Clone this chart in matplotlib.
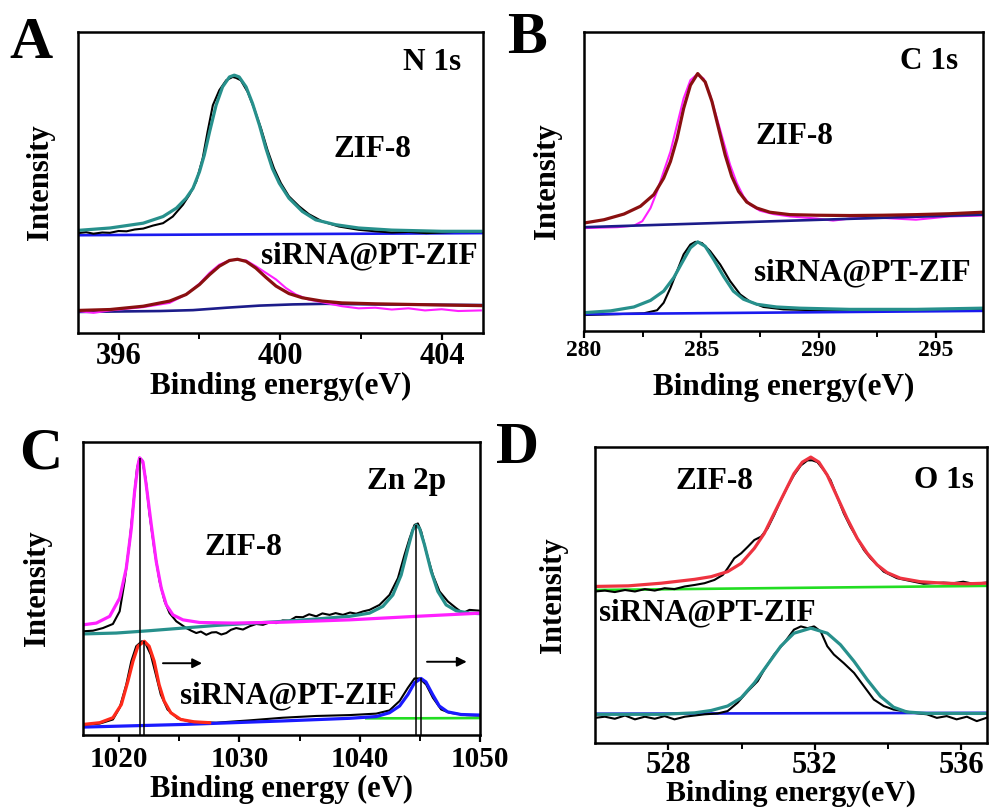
import matplotlib
matplotlib.use("Agg")
import matplotlib.pyplot as plt

plt.rcParams["font.family"] = ["Liberation Serif", "DejaVu Serif"]
plt.rcParams["font.weight"] = "bold"

# ---------------- Panel A : N 1s ----------------
a_fit_e = [395.0, 395.79, 396.61, 397.10, 397.43, 397.67, 397.84, 398.00, 398.12, 398.25,
           398.41, 398.57, 398.74, 398.86, 398.98, 399.15, 399.31, 399.48, 399.64, 399.80,
           399.97, 400.21, 400.54, 400.87, 401.36, 401.93, 402.75, 403.98, 404.95]
a_fit_i = [34.1, 34.9, 36.5, 38.7, 41.5, 44.8, 48.1, 53.6, 59.2, 66.9,
           75.7, 81.8, 85.1, 85.7, 85.1, 81.8, 76.3, 69.1, 61.4, 54.7,
           49.8, 44.8, 40.4, 37.6, 36.0, 34.9, 34.2, 33.8, 33.8]
a_raw_e = [395.0, 395.2, 395.38, 395.6, 395.79, 396.0, 396.20, 396.4, 396.61, 396.85, 397.10,
           397.34, 397.59, 397.75, 397.92, 398.08, 398.20, 398.33, 398.49, 398.66, 398.82,
           398.90, 399.02, 399.19, 399.35, 399.52, 399.68, 399.84, 400.01, 400.21, 400.46,
           400.70, 401.03, 401.44, 401.93, 402.34, 402.75, 403.16, 403.6, 403.98, 404.5, 404.95]
a_raw_i = [33.2, 33.5, 33.0, 33.4, 33.3, 33.9, 33.8, 34.4, 34.7, 35.7, 36.5,
           38.7, 42.6, 45.9, 50.3, 58.1, 66.9, 75.7, 80.7, 84.0, 85.1,
           84.8, 84.0, 80.1, 74.6, 68.0, 60.8, 54.7, 49.8, 45.4, 42.1,
           39.5, 37.1, 35.4, 34.3, 33.8, 33.4, 33.6, 33.2, 33.4, 33.7, 33.6]
a_base_e = [395.0, 405.0]
a_base_i = [32.5, 33.2]

a_fit2_e = [395.0, 395.79, 396.61, 397.26, 397.67, 398.00, 398.25, 398.49, 398.74, 398.94,
            399.15, 399.39, 399.64, 399.89, 400.21, 400.54, 401.03, 401.52, 402.34, 403.16,
            403.98, 404.95]
a_fit2_i = [7.5, 7.8, 8.9, 10.6, 12.8, 16.1, 19.4, 22.2, 24.1, 24.5,
            23.8, 21.6, 18.5, 15.6, 13.1, 11.7, 10.6, 10.0, 9.7, 9.5,
            9.3, 9.1]
a_raw2_e = [395.0, 395.38, 395.79, 396.61, 397.26, 397.67, 398.00, 398.25, 398.49, 398.74,
            398.90, 399.15, 399.39, 399.64, 399.89, 400.13, 400.38, 400.70, 401.11, 401.52,
            401.93, 402.34, 402.75, 403.16, 403.57, 403.98, 404.39, 404.95]
a_raw2_i = [7.3, 6.7, 7.5, 8.6, 10.0, 12.8, 16.4, 20.0, 22.7, 24.1,
            24.4, 24.1, 22.2, 20.0, 17.8, 15.0, 12.8, 11.1, 10.0, 8.9,
            8.2, 8.4, 7.8, 8.2, 7.5, 7.9, 7.3, 7.5]
a_base2_e = [395.0, 397.02, 397.84, 398.66, 399.48, 400.30, 401.11, 402.34, 404.95]
a_base2_i = [7.0, 7.3, 7.6, 8.4, 9.1, 9.5, 9.7, 9.5, 9.3]

# ---------------- Panel B : C 1s ----------------
b_fit_e = [280.0, 280.85, 281.70, 282.40, 282.97, 283.39, 283.68, 283.96, 284.24, 284.53,
           284.84, 285.16, 285.45, 285.73, 286.01, 286.29, 286.58, 286.93, 287.36, 287.92,
           288.77, 289.90, 291.32, 292.73, 294.14, 295.56, 296.97]
b_fit_i = [36.1, 37.2, 39.1, 41.7, 45.6, 51.1, 56.7, 64.4, 74.4, 82.2,
           86.1, 83.3, 76.7, 67.8, 58.9, 51.7, 46.7, 43.1, 41.1, 39.7,
           38.9, 38.7, 38.6, 38.7, 38.9, 39.2, 39.7]
b_raw_e = [280.0, 281.41, 282.12, 282.48, 282.83, 283.11, 283.39, 283.68, 283.96, 284.24,
           284.53, 284.81, 285.09, 285.37, 285.66, 285.94, 286.22, 286.51, 286.79, 287.07,
           287.50, 288.06, 288.77, 289.90, 290.61, 291.32, 292.73, 294.14, 295.56, 296.97]
b_raw_i = [34.4, 34.7, 35.2, 36.7, 41.1, 46.7, 53.3, 60.0, 68.9, 77.8,
           83.9, 85.8, 84.4, 78.9, 71.1, 63.3, 55.6, 49.4, 45.0, 42.2,
           40.2, 39.1, 38.3, 37.6, 36.9, 37.6, 37.8, 37.2, 38.3, 38.6]
b_base_e = [280.0, 297.0]
b_base_i = [34.7, 38.9]

b_fit2_e = [280.0, 281.13, 282.12, 282.83, 283.39, 283.82, 284.17, 284.53, 284.84, 285.16,
            285.52, 285.94, 286.36, 286.79, 287.36, 288.20, 289.19, 291.32, 294.14, 296.97]
b_fit2_i = [6.1, 6.7, 8.0, 10.2, 13.3, 17.8, 22.8, 27.8, 29.8, 28.3,
            23.9, 18.3, 13.3, 10.6, 8.9, 8.0, 7.6, 7.2, 7.2, 7.6]
b_raw2_e = [280.0, 281.41, 282.55, 283.11, 283.39, 283.68, 283.96, 284.24, 284.53, 284.74,
            285.02, 285.37, 285.80, 286.22, 286.65, 287.07, 287.64, 288.49, 289.90, 291.32,
            292.73, 294.14, 295.56, 296.97]
b_raw2_i = [5.3, 5.6, 5.9, 6.9, 9.4, 14.4, 20.0, 25.6, 28.9, 29.8,
            29.4, 26.7, 22.2, 16.7, 12.2, 9.8, 8.0, 7.2, 6.9, 6.9,
            6.7, 6.9, 7.1, 7.2]
b_base2_e = [280.0, 297.0]
b_base2_i = [5.6, 6.7]

# ---------------- Panel C : Zn 2p ----------------
c_fit_e = [1017.0, 1018.11, 1019.22, 1020.05, 1020.60, 1021.02, 1021.29, 1021.57, 1021.71, 1021.99,
           1022.26, 1022.68, 1023.09, 1023.51, 1023.93, 1024.48, 1025.31, 1026.70, 1029.47, 1033.62,
           1039.16, 1044.70, 1050.08]
c_fit_i = [37.6, 38.2, 40.5, 46.7, 56.9, 70.5, 83.0, 92.1, 94.6, 93.2,
           85.3, 71.7, 59.2, 50.1, 44.4, 41.0, 39.3, 38.4, 38.2, 38.5,
           39.3, 40.5, 41.6]
c_fit2_e = [1017.0, 1019.77, 1022.54, 1025.31, 1028.08, 1030.85, 1033.62, 1036.39, 1039.16, 1040.82,
            1041.93, 1042.76, 1043.45, 1044.01, 1044.42, 1044.70, 1044.98, 1045.39, 1045.95, 1046.50,
            1047.19, 1048.02, 1049.13, 1050.08]
c_fit2_i = [34.5, 34.8, 35.6, 36.5, 37.4, 38.1, 38.8, 39.6, 40.5, 41.6,
            43.9, 47.8, 54.6, 63.7, 70.0, 71.7, 70.5, 64.9, 55.8, 49.0,
            44.4, 42.4, 41.6, 41.4]
c_raw_e = [1017.0, 1017.83, 1018.66, 1019.49, 1020.05, 1020.46, 1020.88, 1021.21, 1021.49, 1021.71,
           1021.93, 1022.21, 1022.54, 1022.96, 1023.37, 1023.79, 1024.20, 1024.76, 1025.59, 1026.0,
           1026.42, 1026.8, 1027.25, 1027.7, 1028.08, 1028.5, 1028.91, 1029.3, 1029.74, 1030.3,
           1030.85, 1031.4, 1031.96, 1032.5, 1033.07, 1033.6, 1034.17, 1034.7, 1035.28, 1035.8,
           1036.39, 1036.9, 1037.50, 1038.0, 1038.61, 1039.2, 1039.71, 1040.3, 1040.82, 1041.65,
           1042.48, 1043.18, 1043.73, 1044.15, 1044.56, 1044.84, 1045.12, 1045.53, 1046.09, 1046.64,
           1047.33, 1048.02, 1048.58, 1049.13, 1050.08]
c_raw_i = [35.4, 35.6, 36.5, 37.9, 42.2, 52.4, 66.0, 79.6, 90.9, 94.6,
           93.8, 87.5, 75.1, 62.6, 52.4, 45.6, 41.6, 38.8, 36.5, 35.6,
           34.8, 35.3, 34.2, 35.0, 35.1, 34.3, 34.8, 35.9, 36.5, 36.0,
           37.1, 37.9, 37.6, 38.4, 38.2, 39.1, 39.0, 40.3, 40.2, 41.2,
           40.5, 41.5, 41.0, 41.6, 41.0, 41.8, 41.4, 42.2, 42.7, 44.4,
           47.8, 53.5, 61.5, 67.1, 71.7, 72.2, 69.4, 62.6, 54.6, 49.0,
           45.6, 43.3, 41.6, 42.7, 42.4]

c_fit3_e = [1017.0, 1018.39, 1019.49, 1020.19, 1020.74, 1021.16, 1021.57, 1022.1, 1022.50, 1022.92,
            1023.33, 1023.75, 1024.30, 1025.13, 1026.24, 1027.53]
c_fit3_i = [3.6, 4.2, 5.9, 10.4, 18.4, 25.2, 30.3, 32.0, 30.3, 25.2,
            17.2, 11.6, 7.6, 5.3, 4.5, 4.2]
c_fit4_e = [1017.0, 1025.31, 1033.62, 1039.16, 1041.38, 1042.48, 1043.32, 1044.01, 1044.56, 1045.1,
            1045.51, 1046.07, 1046.62, 1047.31, 1048.42, 1050.08]
c_fit4_i = [2.7, 3.6, 4.8, 5.7, 6.3, 7.6, 9.9, 13.8, 17.8, 19.3,
            18.1, 13.8, 9.9, 7.9, 7.0, 6.8]
c_base4_e = [1040.55, 1044.70, 1050.08]
c_base4_i = [5.7, 5.7, 5.8]
c_raw2_e = [1017.0, 1018.39, 1019.49, 1020.05, 1020.60, 1021.02, 1021.43, 1021.9, 1022.22, 1022.64,
            1023.06, 1023.47, 1024.03, 1024.86, 1025.96, 1028.08, 1030.85, 1033.62, 1036.39, 1039.16,
            1041.38, 1042.48, 1043.32, 1044.01, 1044.56, 1045.0, 1045.53, 1046.09, 1046.78, 1047.47,
            1048.86, 1050.08]
c_raw2_i = [3.4, 3.9, 5.3, 9.3, 17.2, 25.2, 30.3, 32.0, 31.1, 27.4,
            20.6, 13.8, 8.7, 5.7, 4.5, 4.2, 5.0, 5.9, 6.5, 6.8,
            7.3, 8.4, 11.6, 16.1, 19.3, 19.3, 17.2, 12.7, 8.7, 7.6,
            6.8, 6.6]

c_mark_e = [1021.7, 1022.1, 1044.7, 1045.1]
c_mark_top = [94.6, 32.0, 71.7, 19.3]
c_arrow_start = [1023.65, 1045.6]
c_arrow_end = [1026.9, 1048.9]
c_arrow_i = [24.5, 25.0]

# ---------------- Panel D : O 1s ----------------
d_fit_e = [526.0, 526.91, 527.81, 528.72, 529.17, 529.62, 529.99, 530.35, 530.62, 530.89,
           531.16, 531.43, 531.66, 531.89, 532.11, 532.34, 532.61, 532.88, 533.16, 533.43,
           533.70, 533.97, 534.33, 534.88, 535.51, 536.14, 536.68]
d_fit_i = [52.9, 53.1, 54.0, 55.3, 56.2, 57.9, 60.7, 65.8, 70.8, 77.6,
           84.3, 91.0, 94.9, 96.6, 94.9, 90.5, 83.2, 75.9, 69.1, 64.1,
           60.2, 57.6, 55.7, 54.5, 54.0, 53.8, 54.0]
d_raw_e = [526.0, 526.27, 526.54, 526.82, 527.09, 527.36, 527.63, 527.90, 528.17, 528.45,
           528.72, 528.99, 529.26, 529.49, 529.62, 529.80, 529.99, 530.17, 530.35, 530.53,
           530.71, 530.89, 531.07, 531.25, 531.43, 531.62, 531.80, 531.93, 532.07, 532.25,
           532.43, 532.61, 532.79, 532.97, 533.16, 533.34, 533.52, 533.70, 533.88, 534.06,
           534.24, 534.47, 534.70, 534.97, 535.24, 535.51, 535.78, 536.05, 536.33, 536.68]
d_raw_i = [51.2, 51.5, 51.0, 51.7, 51.2, 52.0, 51.5, 52.3, 52.0, 52.9,
           53.4, 54.0, 55.1, 56.8, 59.0, 62.4, 64.1, 66.3, 68.6, 69.7,
           72.5, 77.0, 82.0, 86.5, 90.5, 93.8, 95.5, 95.5, 94.9, 92.1,
           88.8, 83.2, 77.6, 73.1, 69.1, 65.2, 62.4, 60.2, 57.9, 56.8,
           55.7, 55.1, 54.5, 53.8, 54.0, 54.2, 54.0, 54.5, 53.8, 54.2]
d_base_e = [526.0, 536.7]
d_base_i = [51.7, 53.1]

d_fit2_e = [526.0, 527.81, 528.72, 529.17, 529.62, 529.99, 530.35, 530.71, 531.07, 531.43,
            531.89, 532.34, 532.70, 533.07, 533.43, 533.79, 534.15, 534.51, 535.06, 536.68]
d_fit2_i = [9.7, 9.7, 10.2, 11.0, 12.5, 15.3, 20.3, 26.5, 32.7, 37.1,
            38.8, 37.1, 33.2, 27.6, 21.4, 15.8, 12.1, 10.5, 10.0, 10.0]
d_raw2_e = [526.0, 526.27, 526.54, 526.82, 527.09, 527.36, 527.63, 527.90, 528.17, 528.45,
            528.72, 528.99, 529.35, 529.62, 529.89, 530.17, 530.44, 530.62, 530.89, 531.16,
            531.43, 531.62, 531.80, 531.98, 532.16, 532.34, 532.52, 532.79, 533.07, 533.34,
            533.61, 533.88, 534.15, 534.42, 534.70, 535.06, 535.33, 535.60, 535.87, 536.15,
            536.42, 536.68]
d_raw2_i = [8.5, 8.9, 8.2, 9.3, 8.0, 8.9, 8.2, 9.1, 8.0, 8.9,
            9.3, 9.7, 10.0, 10.8, 13.6, 17.5, 20.9, 24.8, 29.9, 33.8,
            38.3, 39.4, 38.8, 39.4, 37.7, 32.7, 29.9, 27.0, 23.7, 19.2,
            14.7, 12.5, 11.3, 10.8, 10.2, 9.7, 8.5, 9.1, 8.0, 8.9,
            7.4, 8.5]
d_base2_e = [526.0, 536.7]
d_base2_i = [9.9, 10.2]

TEAL = "#27908c"
BLUE = "#1a1aee"
NAVY = "#1c1c8a"
MAROON = "#8a1010"
MAGENTA = "#ff20ff"
GREEN = "#22dd22"

FIT_LW = 2.3
RAW_LW = 1.5
BASE_LW = 1.9
TXT = 22.5

fig = plt.figure(figsize=(9.9, 8.11), dpi=100)

axA = fig.add_axes([0.0788, 0.5894, 0.409, 0.371])
axB = fig.add_axes([0.590, 0.592, 0.403, 0.3685])
axC = fig.add_axes([0.0838, 0.0937, 0.401, 0.3613])
axD = fig.add_axes([0.601, 0.0838, 0.396, 0.365])


def style(ax, xlim, major, minor, xlabel, tick_fs, tick_pad, lab_fs, xlab_y, ylab_x):
    ax.set_xlim(*xlim)
    ax.set_ylim(0, 100)
    ax.set_yticks([])
    ax.set_xticks(major)
    ax.set_xticks(minor, minor=True)
    ax.tick_params(axis="x", which="major", direction="out", length=5, width=1.6,
                   labelsize=tick_fs, pad=tick_pad)
    ax.tick_params(axis="x", which="minor", direction="out", length=4, width=1.4)
    for lbl in ax.get_xticklabels():
        lbl.set_fontweight("bold")
    for s in ax.spines.values():
        s.set_linewidth(1.8)
    ax.set_xlabel(xlabel, fontsize=lab_fs, fontweight="bold")
    ax.xaxis.set_label_coords(0.5, xlab_y)
    ax.set_ylabel("Intensity", fontsize=22, fontweight="bold")
    ax.yaxis.set_label_coords(ylab_x, 0.5)


# A
axA.plot(a_base_e, a_base_i, color=BLUE, lw=BASE_LW)
axA.plot(a_raw_e, a_raw_i, color="black", lw=RAW_LW)
axA.plot(a_fit_e, a_fit_i, color=TEAL, lw=FIT_LW)
axA.plot(a_base2_e, a_base2_i, color=NAVY, lw=BASE_LW)
axA.plot(a_raw2_e, a_raw2_i, color=MAGENTA, lw=RAW_LW)
axA.plot(a_fit2_e, a_fit2_i, color=MAROON, lw=FIT_LW)
style(axA, (395, 405), [396, 400, 404], [398, 402], "Binding energy(eV)",
      22, 1.7, 22.5, -0.128, -0.056)
axA.text(404.45, 90, "N 1s", ha="right", va="center", fontsize=TXT, fontweight="bold")
axA.text(402.28, 61, "ZIF-8", ha="center", va="center", fontsize=TXT, fontweight="bold")
axA.text(402.2, 25.6, "siRNA@PT-ZIF", ha="center", va="center", fontsize=TXT, fontweight="bold")

# B
axB.plot(b_raw_e, b_raw_i, color=MAGENTA, lw=RAW_LW)
axB.plot(b_base_e, b_base_i, color=NAVY, lw=BASE_LW)
axB.plot(b_fit_e, b_fit_i, color=MAROON, lw=FIT_LW)
axB.plot(b_raw2_e, b_raw2_i, color="black", lw=RAW_LW)
axB.plot(b_base2_e, b_base2_i, color=BLUE, lw=BASE_LW)
axB.plot(b_fit2_e, b_fit2_i, color=TEAL, lw=FIT_LW)
style(axB, (280, 297), [280, 285, 290, 295], [282.5, 287.5, 292.5],
      "Binding energy(eV)", 17, 1.5, 22.5, -0.14, -0.055)
axB.text(295.95, 90, "C 1s", ha="right", va="center", fontsize=TXT, fontweight="bold")
axB.text(288.95, 65, "ZIF-8", ha="center", va="center", fontsize=TXT, fontweight="bold")
axB.text(291.84, 19.3, "siRNA@PT-ZIF", ha="center", va="center", fontsize=TXT, fontweight="bold")

# C
axC.plot(c_raw_e, c_raw_i, color="black", lw=RAW_LW)
axC.plot(c_fit2_e, c_fit2_i, color=TEAL, lw=FIT_LW)
axC.plot(c_fit_e, c_fit_i, color=MAGENTA, lw=FIT_LW)
axC.plot(c_raw2_e, c_raw2_i, color="black", lw=RAW_LW)
axC.plot(c_base4_e, c_base4_i, color=GREEN, lw=BASE_LW)
axC.plot(c_fit4_e, c_fit4_i, color="#1a1aff", lw=FIT_LW)
axC.plot(c_fit3_e, c_fit3_i, color="#ff2a1a", lw=FIT_LW)
axC.vlines(c_mark_e, 0, c_mark_top, color="black", lw=1.1)
for x0, x1, yy in zip(c_arrow_start, c_arrow_end, c_arrow_i):
    axC.annotate("", xy=(x1, yy), xytext=(x0, yy),
                 arrowprops=dict(arrowstyle="-|>", color="black", lw=1.4,
                                 mutation_scale=14, shrinkA=0, shrinkB=0))
style(axC, (1017, 1050), [1020, 1030, 1040, 1050], [1025, 1035, 1045],
      "Binding energy (eV)", 21, 2.7, 22, -0.137, -0.078)
axC.text(1043.9, 86.4, "Zn 2p", ha="center", va="center", fontsize=TXT, fontweight="bold")
axC.text(1030.34, 63.9, "ZIF-8", ha="center", va="center", fontsize=TXT, fontweight="bold")
axC.text(1034.04, 13.3, "siRNA@PT-ZIF", ha="center", va="center", fontsize=TXT, fontweight="bold")

# D
axD.plot(d_base_e, d_base_i, color=GREEN, lw=BASE_LW)
axD.plot(d_raw_e, d_raw_i, color="black", lw=RAW_LW)
axD.plot(d_fit_e, d_fit_i, color="#ee3340", lw=FIT_LW)
axD.plot(d_base2_e, d_base2_i, color=BLUE, lw=BASE_LW)
axD.plot(d_raw2_e, d_raw2_i, color="black", lw=RAW_LW)
axD.plot(d_fit2_e, d_fit2_i, color=TEAL, lw=FIT_LW)
style(axD, (526, 536.7), [528, 532, 536], [530, 534],
      "Binding energy(eV)", 22, 0.5, 21.5, -0.125, -0.069)
axD.text(536.33, 88.6, "O 1s", ha="right", va="center", fontsize=TXT, fontweight="bold")
axD.text(529.26, 88.2, "ZIF-8", ha="center", va="center", fontsize=TXT, fontweight="bold")
axD.text(529.07, 44.1, "siRNA@PT-ZIF", ha="center", va="center", fontsize=TXT, fontweight="bold")

# panel letters
for lab, x, y in [("A", 0.0313, 0.9285), ("B", 0.532, 0.9346),
                  ("C", 0.0414, 0.4229), ("D", 0.523, 0.4291)]:
    fig.text(x, y, lab, ha="center", va="baseline", fontsize=43, fontweight="bold")

fig.savefig("out.png", dpi=100, facecolor="white")
